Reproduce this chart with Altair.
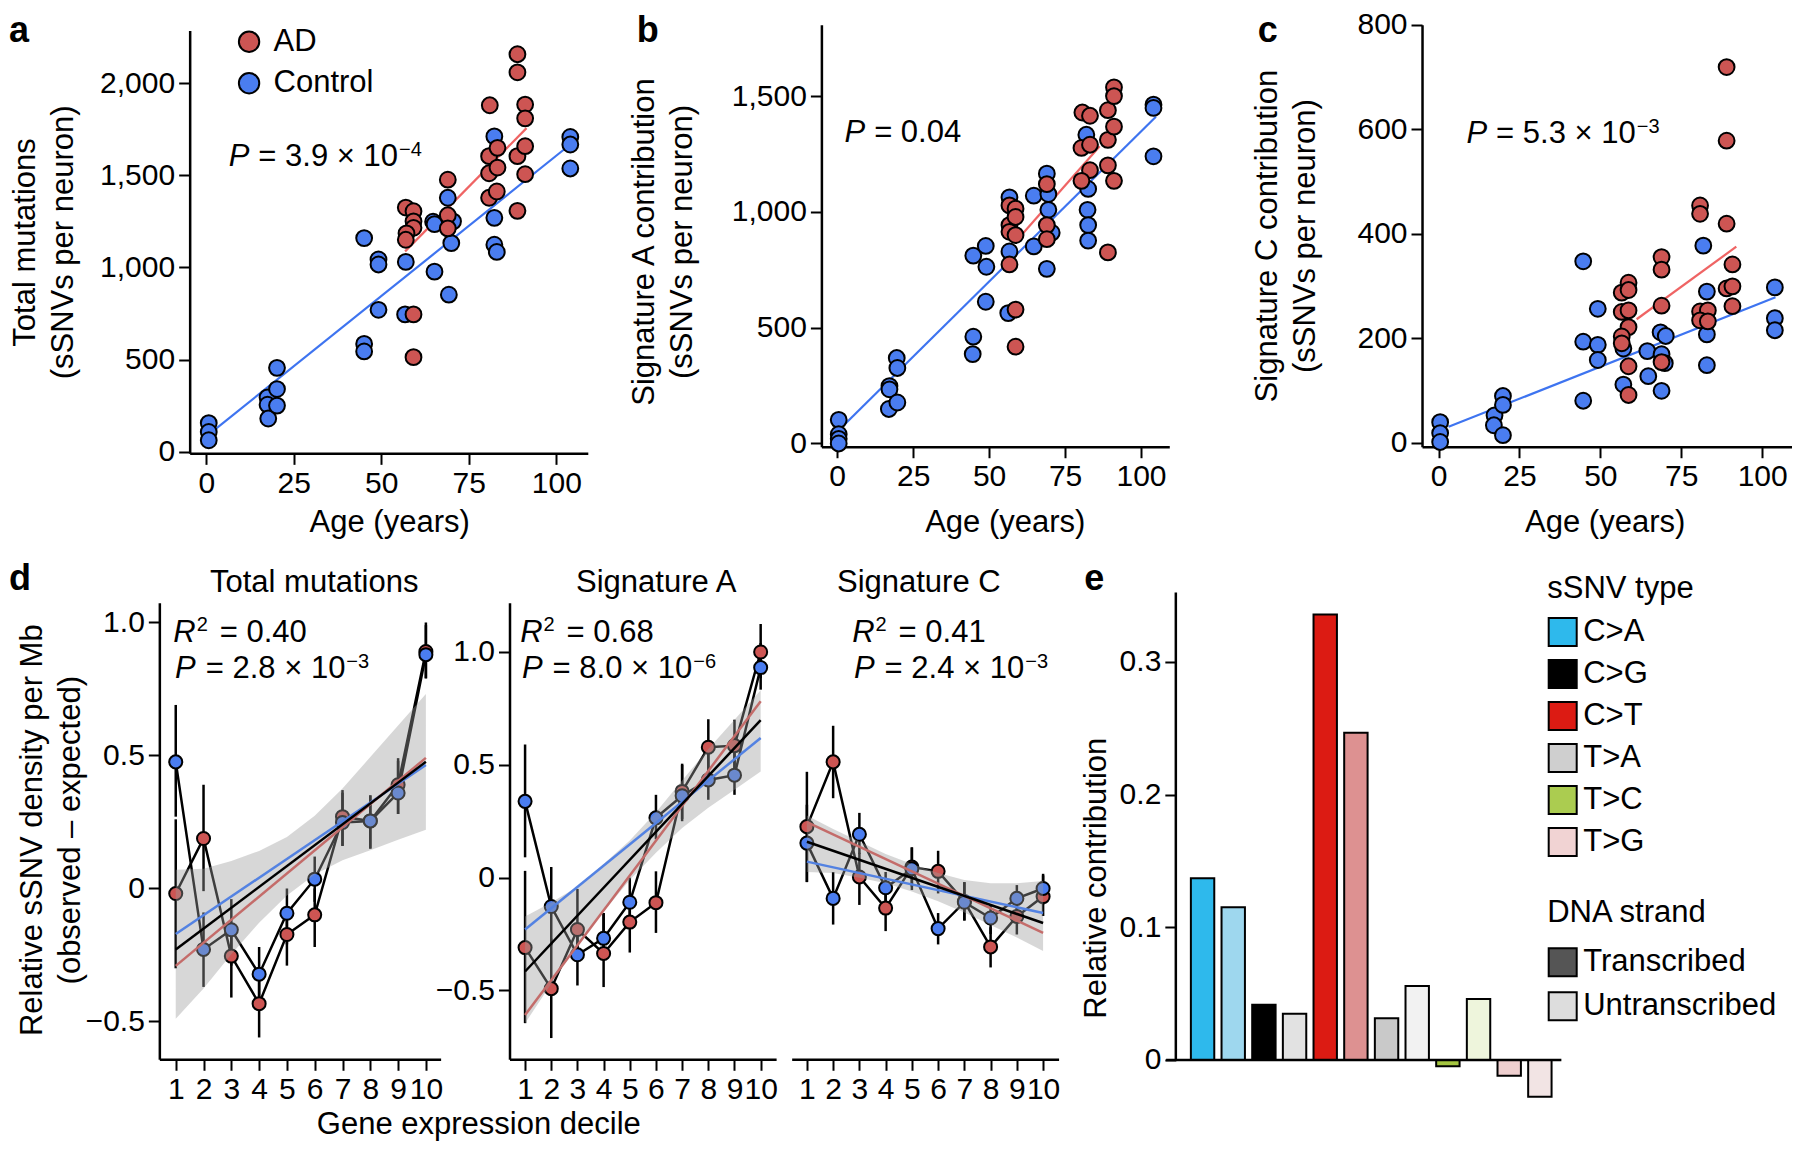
import altair as alt
import pandas as pd

# ---------------------------------------------------------------- data
AGE_TICKS = [0, 25, 50, 75, 100]
DECILES = list(range(1, 11))
GROUPS = ["AD", "Control"]

# a  Total mutations (sSNVs per neuron)
A_AD_AGE = [57.0, 59.2, 59.2, 59.2, 57.2, 57.0, 59.2, 59.2, 69.0, 69.0, 69.0, 81.0, 80.8, 80.8, 80.8,
            83.2, 83.2, 83.0, 88.9, 88.9, 88.9, 88.9, 91.1, 91.1, 91.1, 91.1]
A_AD_VAL = [1325, 1305, 1250, 1215, 1185, 1150, 745, 513, 1476, 1283, 1212, 1880, 1604, 1511, 1378,
            1649, 1542, 1412, 2157, 2059, 1604, 1307, 1884, 1809, 1658, 1506]
A_CT_AGE = [0.7, 0.7, 0.7, 17.5, 17.5, 17.7, 20.2, 20.2, 20.2, 45.1, 45.1, 45.1, 49.2, 49.2, 49.2,
            57.0, 56.8, 64.8, 65.2, 65.2, 69.0, 70.0, 69.3, 70.5, 82.3, 82.3, 82.3, 83.0, 104.0, 104.0, 104.0]
A_CT_VAL = [155, 107, 62, 295, 255, 180, 455, 340, 250, 1159, 585, 544, 1043, 1016, 770,
            1030, 745, 1248, 1235, 977, 1378, 1132, 852, 1250, 1711, 1269, 1123, 1084, 1708, 1667, 1537]
A_FIT_AD = ([56.8, 91.5], [1087, 1756])
A_FIT_CT = ([1.0, 102.2], [98, 1640])

# b  Signature A contribution
B_AD_AGE = [56.7, 56.7, 56.7, 58.7, 58.7, 58.7, 56.7, 58.7, 58.7, 69.0, 69.0, 69.0, 80.7, 83.2, 80.4,
            83.2, 83.2, 80.4, 89.1, 89.1, 89.1, 89.1, 91.1, 91.1, 91.1, 91.1]
B_AD_VAL = [1028, 943, 914, 1014, 978, 900, 773, 578, 418, 1120, 943, 882, 1429, 1415, 1276,
            1290, 1180, 1134, 1439, 1311, 1201, 825, 1538, 1500, 1368, 1134]
B_CT_AGE = [0.5, 0.5, 0.5, 0.5, 17.2, 17.2, 17.0, 19.6, 19.8, 19.8, 44.8, 44.8, 44.6, 48.9, 49.1, 48.9,
            56.7, 56.7, 56.3, 64.7, 64.7, 69.0, 69.5, 69.5, 70.6, 69.0, 82.0, 82.6, 82.4, 82.6, 82.6,
            104.1, 104.1, 104.1]
B_CT_VAL = [102, 40, 20, 0, 248, 234, 149, 369, 326, 177, 811, 461, 386, 853, 763, 612,
            1063, 829, 563, 1070, 851, 1165, 1077, 1009, 910, 754, 1333, 1099, 1009, 943, 876,
            1463, 1449, 1240]
B_FIT_AD = ([61.1, 86.4], [907, 1283])
B_FIT_CT = ([0.5, 104.9], [57, 1411])

# c  Signature C contribution
C_AD_AGE = [56.6, 58.7, 58.7, 56.6, 58.7, 58.7, 56.6, 56.6, 58.7, 58.7, 68.9, 68.9, 68.9, 68.9,
            80.8, 80.8, 80.8, 83.2, 80.8, 83.2, 89.0, 89.0, 89.0, 89.0, 90.8, 90.8, 90.8]
C_AD_VAL = [287, 306, 292, 250, 253, 221, 203, 190, 146, 91, 355, 331, 262, 154,
            454, 438, 251, 253, 234, 232, 719, 578, 419, 295, 341, 299, 261]
C_CT_AGE = [0.5, 0.5, 0.5, 17.3, 17.1, 19.9, 19.9, 19.9, 44.7, 44.7, 44.7, 49.2, 49.2, 49.2,
            57.1, 57.1, 64.5, 64.8, 68.6, 70.2, 68.9, 69.9, 68.9, 81.8, 82.9, 82.9, 82.9,
            103.9, 103.9, 103.9]
C_CT_VAL = [39, 18, 1, 52, 33, 89, 72, 14, 347, 193, 80, 256, 187, 158,
            180, 111, 175, 127, 211, 204, 169, 152, 99, 377, 289, 207, 148, 297, 238, 215]
C_FIT_AD = ([61.2, 92.0], [236, 375])
C_FIT_CT = ([3.1, 104.1], [30, 278])

# d  Relative sSNV density per Mb by gene-expression decile
D1_AD = [-0.019, 0.188, -0.254, -0.433, -0.173, -0.099, 0.27, 0.254, 0.39, 0.891]
D1_AD_LO = [-0.30, -0.01, -0.41, -0.56, -0.29, -0.22, 0.16, 0.15, 0.28, 0.79]
D1_AD_HI = [0.26, 0.39, -0.14, -0.34, -0.09, 0.0, 0.37, 0.35, 0.49, 1.0]
D1_CT = [0.476, -0.229, -0.155, -0.322, -0.093, 0.035, 0.248, 0.254, 0.359, 0.879]
D1_CT_LO = [0.27, -0.37, -0.29, -0.42, -0.21, -0.05, 0.16, 0.15, 0.28, 0.79]
D1_CT_HI = [0.69, -0.09, -0.04, -0.22, 0.0, 0.12, 0.36, 0.35, 0.48, 0.99]
D1_BAND_LO = [-0.49, -0.376, -0.247, -0.129, -0.026, 0.053, 0.106, 0.144, 0.183, 0.221]
D1_BAND_HI = [0.07, 0.074, 0.103, 0.141, 0.194, 0.273, 0.376, 0.494, 0.613, 0.731]
D1_FIT_ALL = [-0.229, 0.476]
D1_FIT_AD = [-0.291, 0.491]
D1_FIT_CT = [-0.171, 0.464]

D2_AD = [-0.31, -0.492, -0.23, -0.336, -0.197, -0.111, 0.382, 0.578, 0.585, 1.0]
D2_AD_LO = [-0.645, -0.711, -0.354, -0.485, -0.332, -0.245, 0.25, 0.462, 0.46, 0.884]
D2_AD_HI = [0.03, -0.27, -0.05, -0.157, -0.077, 0.028, 0.505, 0.702, 0.70, 1.124]
D2_CT = [0.338, -0.128, -0.342, -0.269, -0.109, 0.265, 0.363, 0.433, 0.454, 0.931]
D2_CT_LO = [0.09, -0.30, -0.478, -0.34, -0.2, 0.17, 0.26, 0.345, 0.367, 0.833]
D2_CT_HI = [0.59, 0.047, -0.25, -0.157, 0.0, 0.367, 0.50, 0.56, 0.57, 1.04]
D2_BAND_LO = [-0.645, -0.47, -0.30, -0.15, -0.01, 0.11, 0.22, 0.31, 0.39, 0.47]
D2_BAND_HI = [-0.172, -0.11, -0.04, 0.06, 0.165, 0.29, 0.43, 0.57, 0.70, 0.83]
D2_FIT_ALL = [-0.416, 0.698]
D2_FIT_AD = [-0.609, 0.782]
D2_FIT_CT = [-0.230, 0.619]

D3_AD = [0.226, 0.513, 0.003, -0.135, 0.047, 0.028, -0.106, -0.307, -0.172, -0.084]
D3_AD_LO = [-0.019, 0.352, -0.121, -0.237, -0.04, -0.07, -0.19, -0.398, -0.252, -0.17]
D3_AD_HI = [0.469, 0.673, 0.11, -0.05, 0.134, 0.119, -0.02, -0.22, -0.09, 0.01]
D3_CT = [0.153, -0.092, 0.192, -0.045, 0.039, -0.226, -0.109, -0.179, -0.092, -0.048]
D3_CT_LO = [-0.02, -0.208, 0.105, -0.12, -0.055, -0.296, -0.19, -0.25, -0.16, -0.12]
D3_CT_HI = [0.323, 0.025, 0.287, 0.025, 0.134, -0.157, -0.02, -0.12, -0.033, 0.017]
D3_BAND_LO = [0.025, 0.02, 0.0, -0.025, -0.062, -0.105, -0.155, -0.21, -0.265, -0.325]
D3_BAND_HI = [0.275, 0.215, 0.16, 0.105, 0.06, 0.02, -0.01, -0.025, -0.025, -0.015]
D3_FIT_ALL = [0.159, -0.201]
D3_FIT_AD = [0.246, -0.245]
D3_FIT_CT = [0.071, -0.157]

# e  Relative contribution by sSNV type and DNA strand
E_TYPE = ["C>A", "C>A", "C>G", "C>G", "C>T", "C>T", "T>A", "T>A", "T>C", "T>C", "T>G", "T>G"]
E_STRAND = ["Transcribed", "Untranscribed"] * 6
E_VALUE = [0.137, 0.115, 0.0416, 0.0348, 0.3357, 0.2465, 0.0314, 0.0558, -0.0048, 0.0459, -0.0119, -0.0278]
LEGEND_TYPES = ["C>A", "C>G", "C>T", "T>A", "T>C", "T>G"]
LEGEND_STRANDS = ["Transcribed", "Untranscribed"]

# ---------------------------------------------------------------- styles
FONT = "Liberation Sans"
RED, BLUE = "#CD5553", "#4A7DF0"
RED_FIT, BLUE_FIT = "#EF6464", "#3E74F0"
RED_FIT_D, BLUE_FIT_D = "#C46C6A", "#5382E2"
BAR_COLORS = ["#2EB9EC", "#9ED7EE", "#000000", "#E2E2E2", "#DC1B13", "#DD9191",
              "#C9C9C9", "#F2F2F2", "#A4C540", "#EEF5DC", "#EFCFCF", "#F2E4E4"]
TYPE_COLORS = ["#2EB9EC", "#000000", "#DC1B13", "#CFCFCF", "#ABCC50", "#F1D3D3"]
STRAND_COLORS = ["#555555", "#DDDDDD"]

W, H = 1784, 1136
SX = W / 1800
SY = H / 1153
Y0 = 3


def X(v):
    return round(v * SX, 2)


def Y(v):
    return round((v - Y0) * SY, 2)


ARIAL = {" ": 278, "=": 584, ".": 278, "\u00d7": 584, "\u2212": 584}
for _d in "0123456789":
    ARIAL[_d] = 556


def tw(s, size):
    return sum(ARIAL.get(c, 556) for c in s) * size / 1000


ONE = pd.DataFrame({"k": [0]})
TXT = dict(font=FONT, color="black", baseline="alphabetic")


class Enc:
    """Holds one panel's scales and axes so that every layer shares identical definitions."""

    def __init__(self, xs, ys, xax, yax, xtitle, ytitle, xtype="Q"):
        self.xs, self.ys, self.xax, self.yax = xs, ys, xax, yax
        self.xtitle, self.ytitle, self.xtype = xtitle, ytitle, xtype

    def x(self, field):
        return alt.X(f"{field}:{self.xtype}", scale=self.xs, axis=self.xax, title=self.xtitle)

    def y(self, field):
        return alt.Y(f"{field}:Q", scale=self.ys, axis=self.yax, title=self.ytitle)

    def xd(self, v):
        return alt.XDatum(datum=v, scale=self.xs, axis=self.xax, title=self.xtitle)

    def yd(self, v):
        return alt.YDatum(datum=v, scale=self.ys, axis=self.yax, title=self.ytitle)


def stat_text(enc, xv, yv, lead, rest, sup=None, rest_dx=9, lead_sup=None):
    pos = dict(x=enc.xd(xv), y=enc.yd(yv))
    out = [alt.Chart(ONE).mark_text(text=lead, fontStyle="italic", align="right", fontSize=31, **TXT)
           .encode(**pos)]
    if lead_sup:
        out.append(alt.Chart(ONE).mark_text(text=lead_sup, align="left", fontSize=20, dx=1, dy=-11, **TXT)
                   .encode(**pos))
    out.append(alt.Chart(ONE).mark_text(text=rest, align="left", fontSize=31, dx=rest_dx, **TXT)
               .encode(**pos))
    if sup:
        out.append(alt.Chart(ONE).mark_text(text=sup, align="left", fontSize=20,
                                            dx=rest_dx + tw(rest, 31) + 1, dy=-10, **TXT)
                   .encode(**pos))
    return out


def scatter_panel(g, ad_age, ad_val, ct_age, ct_val, fit_ad, fit_ct, yticks, ytitle, ytitle_xy,
                  xtitle_x, ptext, legend):
    xs = alt.Scale(domain=g["xdom"], range=[X(g["left"]), X(g["right"])], nice=False, zero=False)
    ys = alt.Scale(domain=g["ydom"], range=[Y(g["bottom"]), Y(g["top"])], nice=False, zero=False)
    xax = alt.Axis(orient="bottom", offset=Y(g["bottom"]) - H, values=AGE_TICKS, format="d",
                   titleX=X(xtitle_x), titleY=Y(525) - Y(g["bottom"]), titleBaseline="middle",
                   titleAlign="center", labelFlush=False, labelOverlap=False)
    yax = alt.Axis(orient="left", offset=-X(g["left"]), values=yticks, format=",d",
                   titleX=X(ytitle_xy[0]) - X(g["left"]), titleY=Y(ytitle_xy[1]), titleAngle=270,
                   titleBaseline="middle", titleAlign="center", titleLineHeight=38,
                   labelOverlap=False, labelFlush=False)
    enc = Enc(xs, ys, xax, yax, "Age (years)", ytitle)
    pts = pd.DataFrame({"age": ct_age + ad_age, "value": ct_val + ad_val,
                        "group": ["Control"] * len(ct_age) + ["AD"] * len(ad_age)})
    fit_ct_df = pd.DataFrame({"age": fit_ct[0], "value": fit_ct[1]})
    fit_ad_df = pd.DataFrame({"age": fit_ad[0], "value": fit_ad[1]})
    l_ct = alt.Chart(fit_ct_df).mark_line(color=BLUE_FIT, strokeWidth=2.2).encode(
        x=enc.x("age"), y=enc.y("value"))
    l_ad = alt.Chart(fit_ad_df).mark_line(color=RED_FIT, strokeWidth=2.2).encode(
        x=enc.x("age"), y=enc.y("value"))
    if legend:
        leg = alt.Legend(title=None, orient="none", legendX=X(239.2) - 11.5, legendY=Y(37.2) - 15.5,
                         symbolType="circle", symbolSize=415, symbolStrokeColor="black",
                         symbolStrokeWidth=2, symbolOpacity=1, labelFontSize=31, labelFont=FONT,
                         labelColor="black", labelOffset=9, rowPadding=9.5, padding=0, labelLimit=300)
    else:
        leg = None
    dots = alt.Chart(pts).mark_circle(size=250, opacity=1, stroke="black", strokeWidth=2).encode(
        x=enc.x("age"), y=enc.y("value"),
        fill=alt.Fill("group:N", scale=alt.Scale(domain=GROUPS, range=[RED, BLUE]), legend=leg))
    texts = stat_text(enc, ptext[0], ptext[1], "P", ptext[2], ptext[3])
    return alt.layer(l_ct, l_ad, dots, *texts)


def d_panel(g, ad, ad_lo, ad_hi, ct, ct_lo, ct_hi, band_lo, band_hi, fit_all, fit_ad, fit_ct,
            show_y, show_xtitle, r2text, ptext):
    xs = alt.Scale(domain=g["xdom"], range=[X(g["left"]), X(g["right"])], nice=False, zero=False)
    ys = alt.Scale(domain=g["ydom"], range=[Y(g["bottom"]), Y(g["top"])], nice=False, zero=False)
    xkw = dict(orient="bottom", offset=Y(g["bottom"]) - H, values=DECILES, format="d",
               labelOverlap=False, labelFlush=False)
    if show_xtitle:
        xkw.update(titleX=X(474.5), titleY=Y(1136) - Y(g["bottom"]), titleBaseline="middle",
                   titleAlign="center")
    xax = alt.Axis(**xkw)
    xtitle = "Gene expression decile" if show_xtitle else None
    lab_expr = "datum.value == 0 ? '0' : format(datum.value, '.1f')"
    if show_y == "title":
        yax = alt.Axis(orient="left", offset=-X(g["left"]), values=[-0.5, 0, 0.5, 1.0], labelExpr=lab_expr,
                       titleX=X(25) - X(g["left"]), titleY=Y(837), titleAngle=270,
                       titleBaseline="middle", titleAlign="center", titleLineHeight=38,
                       labelOverlap=False, labelFlush=False)
        ytitle = ["Relative sSNV density per Mb", "(observed \u2013 expected)"]
    elif show_y == "labels":
        yax = alt.Axis(orient="left", offset=-X(g["left"]), values=[-0.5, 0, 0.5, 1.0], labelExpr=lab_expr,
                       labelOverlap=False, labelFlush=False)
        ytitle = None
    else:
        yax = None
        ytitle = None
    enc = Enc(xs, ys, xax, yax, xtitle, ytitle)

    pts = pd.DataFrame({"decile": DECILES * 2, "value": ad + ct, "lo": ad_lo + ct_lo, "hi": ad_hi + ct_hi,
                        "group": ["AD"] * 10 + ["Control"] * 10})
    band = pd.DataFrame({"decile": DECILES, "lo": band_lo, "hi": band_hi})
    ends = [1, 10]
    err = alt.Chart(pts).mark_rule(color="black", strokeWidth=2.5).encode(
        x=enc.x("decile"), y=enc.y("lo"), y2="hi:Q")
    conn = alt.Chart(pts).mark_line(color="black", strokeWidth=2.5).encode(
        x=enc.x("decile"), y=enc.y("value"), detail="group:N")
    dots = alt.Chart(pts).mark_circle(size=170, opacity=1, stroke="black", strokeWidth=2).encode(
        x=enc.x("decile"), y=enc.y("value"),
        fill=alt.Fill("group:N", scale=alt.Scale(domain=GROUPS, range=[RED, BLUE]), legend=None))
    shade = alt.Chart(band).mark_area(color="#9A9A9A", opacity=0.4).encode(
        x=enc.x("decile"), y=enc.y("lo"), y2="hi:Q")
    f_ct = alt.Chart(pd.DataFrame({"decile": ends, "value": fit_ct})).mark_line(
        color=BLUE_FIT_D, strokeWidth=2.5).encode(x=enc.x("decile"), y=enc.y("value"))
    f_ad = alt.Chart(pd.DataFrame({"decile": ends, "value": fit_ad})).mark_line(
        color=RED_FIT_D, strokeWidth=2.5).encode(x=enc.x("decile"), y=enc.y("value"))
    f_all = alt.Chart(pd.DataFrame({"decile": ends, "value": fit_all})).mark_line(
        color="black", strokeWidth=2.5).encode(x=enc.x("decile"), y=enc.y("value"))
    texts = stat_text(enc, r2text[0], r2text[1], "R", r2text[2], None, rest_dx=24, lead_sup="2")
    texts += stat_text(enc, ptext[0], ptext[1], "P", ptext[2], ptext[3], rest_dx=10)
    return alt.layer(err, conn, dots, shade, f_ct, f_ad, f_all, *texts)


# ---------------------------------------------------------------- panels a-c
GA = dict(left=183.3, right=585.0, top=25.8, bottom=455.0, xdom=[-4.75, 109.0], ydom=[-9, 2286])
GB = dict(left=820.7, right=1171.7, top=20.0, bottom=448.3, xdom=[-5.2, 109.3], ydom=[-14, 1808])
GC = dict(left=1426.7, right=1800.0, top=20.0, bottom=448.3, xdom=[-5.1, 109.2], ydom=[-8.1, 800])

pa = scatter_panel(GA, A_AD_AGE, A_AD_VAL, A_CT_AGE, A_CT_VAL, A_FIT_AD, A_FIT_CT,
                   [0, 500, 1000, 1500, 2000], ["Total mutations", "(sSNVs per neuron)"], (17.5, 240.4),
                   384.6, (12.3, 1551, "= 3.9 \u00d7 10", "\u22124"), True)
pb = scatter_panel(GB, B_AD_AGE, B_AD_VAL, B_CT_AGE, B_CT_VAL, B_FIT_AD, B_FIT_CT,
                   [0, 500, 1000, 1500], ["Signature A contribution", "(sSNVs per neuron)"], (642, 240),
                   1005.7, (9.2, 1301, "= 0.04", None), False)
pc = scatter_panel(GC, C_AD_AGE, C_AD_VAL, C_CT_AGE, C_CT_VAL, C_FIT_AD, C_FIT_CT,
                   [0, 200, 400, 600, 800], ["Signature C contribution", "(sSNVs per neuron)"], (1271, 234),
                   1611, (15.0, 573.6, "= 5.3 \u00d7 10", "\u22123"), False)

# ---------------------------------------------------------------- panel d
GD1 = dict(left=152.7, right=436.5, top=606.7, bottom=1070.0, xdom=[0.41, 10.53], ydom=[-0.642, 1.074])
GD2 = dict(left=506.0, right=775.0, top=606.7, bottom=1070.0, xdom=[0.405, 10.59], ydom=[-0.805, 1.218])
GD3 = dict(left=790.7, right=1060.0, top=606.7, bottom=1070.0, xdom=[0.42, 10.59], ydom=[-0.805, 1.218])

pd1 = d_panel(GD1, D1_AD, D1_AD_LO, D1_AD_HI, D1_CT, D1_CT_LO, D1_CT_HI, D1_BAND_LO, D1_BAND_HI,
              D1_FIT_ALL, D1_FIT_AD, D1_FIT_CT, "title", True,
              (1.72, 0.926, "= 0.40"), (1.72, 0.790, "= 2.8 \u00d7 10", "\u22123"))
pd2 = d_panel(GD2, D2_AD, D2_AD_LO, D2_AD_HI, D2_CT, D2_CT_LO, D2_CT_HI, D2_BAND_LO, D2_BAND_HI,
              D2_FIT_ALL, D2_FIT_AD, D2_FIT_CT, "labels", False,
              (1.67, 1.044, "= 0.68"), (1.67, 0.884, "= 8.0 \u00d7 10", "\u22126"))
pd3 = d_panel(GD3, D3_AD, D3_AD_LO, D3_AD_HI, D3_CT, D3_CT_LO, D3_CT_HI, D3_BAND_LO, D3_BAND_HI,
              D3_FIT_ALL, D3_FIT_AD, D3_FIT_CT, "none", False,
              (3.58, 1.044, "= 0.41"), (3.58, 0.884, "= 2.4 \u00d7 10", "\u22123"))

# ---------------------------------------------------------------- panel e
e_keys = [f"{t} {s}" for t, s in zip(E_TYPE, E_STRAND)]
e_df = pd.DataFrame({"key": e_keys, "type": E_TYPE, "strand": E_STRAND, "value": E_VALUE})
e_xs = alt.Scale(domain=e_keys, range=[X(1184.2), X(1566.7)], paddingInner=0.237, paddingOuter=0.3)
e_ys = alt.Scale(domain=[-0.0352, 0.3523], range=[Y(1118.1), Y(596.2)], nice=False, zero=False)
e_yax = alt.Axis(orient="left", offset=-X(1178.3), values=[0, 0.1, 0.2, 0.3], format=".1~f", domain=False,
                 titleX=X(1098) - X(1178.3), titleY=Y(885.7), titleAngle=270, titleBaseline="middle",
                 titleAlign="center", labelOverlap=False, labelFlush=False)
e_enc = Enc(e_xs, e_ys, None, e_yax, None, "Relative contribution", xtype="N")
e_x = alt.X("key:N", sort=e_keys, scale=e_xs, axis=None, title=None)

leg_common = dict(orient="none", symbolType="square", symbolSize=784, symbolStrokeColor="black",
                  symbolStrokeWidth=2, symbolOpacity=1, labelFontSize=31, titleFontSize=31,
                  titleFontWeight="normal", labelFont=FONT, titleFont=FONT, labelColor="black",
                  titleColor="black", labelOffset=5, padding=0, labelLimit=400, titleLimit=400)
leg_type_df = pd.DataFrame({"type": LEGEND_TYPES, "key": [e_keys[4]] * 6, "value": [0.2] * 6})
leg_strand_df = pd.DataFrame({"strand": LEGEND_STRANDS, "key": [e_keys[4]] * 2, "value": [0.2] * 2})
leg_type = alt.Chart(leg_type_df).mark_square(opacity=0, size=4, stroke="black", strokeWidth=2).encode(
    x=e_x, y=e_enc.y("value"),
    fill=alt.Fill("type:N", scale=alt.Scale(domain=LEGEND_TYPES, range=TYPE_COLORS),
                  legend=alt.Legend(title="sSNV type", legendX=X(1553), legendY=Y(577),
                                    titlePadding=12, rowPadding=5.0, **leg_common)))
leg_strand = alt.Chart(leg_strand_df).mark_square(opacity=0, size=4, stroke="black", strokeWidth=2).encode(
    x=e_x, y=e_enc.y("value"),
    fill=alt.Fill("strand:N", scale=alt.Scale(domain=LEGEND_STRANDS, range=STRAND_COLORS),
                  legend=alt.Legend(title="DNA strand", legendX=X(1553), legendY=Y(906),
                                    titlePadding=18, rowPadding=7.0, **leg_common)))
bars = alt.Chart(e_df).mark_bar(stroke="black", strokeWidth=2).encode(
    x=e_x, y=e_enc.y("value"), y2=alt.Y2Datum(datum=0),
    fill=alt.Fill("key:N", scale=alt.Scale(domain=e_keys, range=BAR_COLORS), legend=None))
zero_line = alt.Chart(ONE).mark_rule(color="black", strokeWidth=2.5).encode(
    x=alt.value(X(1168.5)), x2=alt.value(X(1567.3)), y=e_enc.yd(0))
y_line = alt.Chart(ONE).mark_rule(color="black", strokeWidth=2.5).encode(
    x=alt.value(X(1178.3)), y=e_enc.yd(0), y2=alt.Y2Datum(datum=0.3523))
pe = alt.layer(leg_type, leg_strand, bars, zero_line, y_line).resolve_scale(
    fill="independent").resolve_legend(fill="independent")


# ---------------------------------------------------------------- panel letters & strip titles
def label(txt, x, y, size=36, weight="bold", align="left", baseline="alphabetic"):
    return alt.Chart(ONE).mark_text(text=txt, font=FONT, fontSize=size, fontWeight=weight, align=align,
                                    baseline=baseline, color="black").encode(
        x=alt.value(X(x)), y=alt.value(Y(y)))


labels = [
    label("a", 1, 37), label("b", 634.4, 38), label("c", 1261, 37),
    label("d", 1, 594), label("e", 1086, 594),
    label("Total mutations", 309, 586.7, 31, "normal", "center", "middle"),
    label("Signature A", 654, 586.7, 31, "normal", "center", "middle"),
    label("Signature C", 919, 586.7, 31, "normal", "center", "middle"),
]

chart = alt.layer(pa, pb, pc, pd1, pd2, pd3, pe, *labels).resolve_scale(
    x="independent", y="independent", fill="independent"
).resolve_axis(x="independent", y="independent").resolve_legend(fill="independent").properties(
    width=W, height=H, padding=0, autosize=alt.AutoSizeParams(type="none")
).configure_view(strokeWidth=0).configure_axis(
    domainColor="black", domainWidth=2.5, tickColor="black", tickWidth=2, tickSize=11,
    labelFont=FONT, labelFontSize=30, labelColor="black", labelPadding=4,
    titleFont=FONT, titleFontSize=31, titleFontWeight="normal", titleColor="black", grid=False
)

chart.save("out.html", embed_options={"renderer": "svg", "actions": False})
